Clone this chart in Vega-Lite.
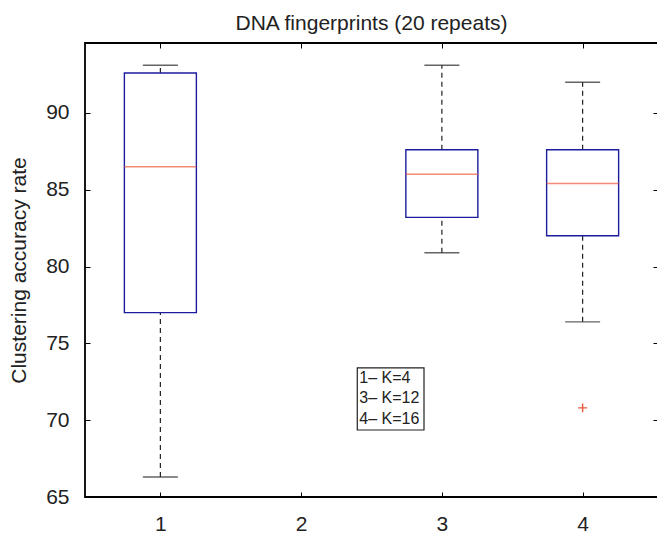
{
  "$schema": "https://vega.github.io/schema/vega-lite/v6.json",
  "width": 573,
  "height": 454,
  "autosize": {"type": "none"},
  "padding": {"left": 85, "top": 43, "right": 0, "bottom": 37},
  "background": "white",
  "config": {
    "view": {"stroke": "black", "strokeWidth": 1.8},
    "font": "Liberation Sans",
    "axis": {"domain": false, "grid": false, "tickColor": "black", "tickWidth": 1, "labelColor": "#222222", "labelFont": "Liberation Sans", "titleFont": "Liberation Sans", "titleColor": "#222222"}
  },
  "title": {"text": "DNA fingerprints (20 repeats)", "fontSize": 21, "fontWeight": "normal", "font": "Liberation Sans", "color": "#222222", "offset": 9},
  "data": {"values": [
    {"group": 1, "lower": 66.3, "q1": 77.0, "median": 86.5, "q3": 92.6, "upper": 93.1},
    {"group": 3, "lower": 80.9, "q1": 83.2, "median": 86.0, "q3": 87.6, "upper": 93.1},
    {"group": 4, "lower": 76.4, "q1": 82.0, "median": 85.4, "q3": 87.6, "upper": 92.0}
  ]},
  "resolve": {"axis": {"x": "independent", "y": "independent"}},
  "layer": [
    {
      "mark": {"type": "rule", "color": "#222222", "strokeDash": [5, 4], "strokeWidth": 1.2},
      "encoding": {
        "x": {"field": "group", "type": "quantitative", "scale": {"domain": [0.5, 4.5], "nice": false, "zero": false},
          "axis": {"orient": "bottom", "values": [1, 2, 3, 4], "tickSize": -5, "labelPadding": 21, "labelFontSize": 21, "title": null, "format": "d"}},
        "y": {"field": "lower", "type": "quantitative", "scale": {"domain": [65, 94.55], "nice": false, "zero": false},
          "axis": {"orient": "left", "values": [65, 70, 75, 80, 85, 90], "tickSize": -5, "labelPadding": 21, "labelFontSize": 21, "title": "Clustering accuracy rate", "titleFontSize": 21, "titleFontWeight": "normal", "titlePadding": 16}},
        "y2": {"field": "q1"}
      }
    },
    {
      "mark": {"type": "rule", "color": "#222222", "strokeDash": [5, 4], "strokeWidth": 1.2},
      "encoding": {
        "x": {"field": "group", "type": "quantitative", "scale": {"domain": [0.5, 4.5], "nice": false, "zero": false},
          "axis": {"orient": "top", "values": [1, 2, 3, 4], "tickSize": -5, "labels": false, "title": null}},
        "y": {"field": "q3", "type": "quantitative", "scale": {"domain": [65, 94.55], "nice": false, "zero": false},
          "axis": {"orient": "right", "values": [65, 70, 75, 80, 85, 90], "tickSize": -5, "labels": false, "title": null}},
        "y2": {"field": "upper"}
      }
    },
    {
      "mark": {"type": "tick", "orient": "horizontal", "color": "#222222", "size": 35, "thickness": 1.4},
      "encoding": {
        "x": {"field": "group", "type": "quantitative", "scale": {"domain": [0.5, 4.5], "nice": false, "zero": false}, "axis": null},
        "y": {"field": "lower", "type": "quantitative", "scale": {"domain": [65, 94.55], "nice": false, "zero": false}, "axis": null}
      }
    },
    {
      "mark": {"type": "tick", "orient": "horizontal", "color": "#222222", "size": 35, "thickness": 1.4},
      "encoding": {
        "x": {"field": "group", "type": "quantitative", "scale": {"domain": [0.5, 4.5], "nice": false, "zero": false}, "axis": null},
        "y": {"field": "upper", "type": "quantitative", "scale": {"domain": [65, 94.55], "nice": false, "zero": false}, "axis": null}
      }
    },
    {
      "mark": {"type": "bar", "size": 72, "fill": "white", "fillOpacity": 0, "stroke": "#1c1c9c", "strokeWidth": 1.4},
      "encoding": {
        "x": {"field": "group", "type": "quantitative", "scale": {"domain": [0.5, 4.5], "nice": false, "zero": false}, "axis": null},
        "y": {"field": "q1", "type": "quantitative", "scale": {"domain": [65, 94.55], "nice": false, "zero": false}, "axis": null},
        "y2": {"field": "q3"}
      }
    },
    {
      "mark": {"type": "tick", "orient": "horizontal", "color": "#f05a3a", "size": 72, "thickness": 1.5},
      "encoding": {
        "x": {"field": "group", "type": "quantitative", "scale": {"domain": [0.5, 4.5], "nice": false, "zero": false}, "axis": null},
        "y": {"field": "median", "type": "quantitative", "scale": {"domain": [65, 94.55], "nice": false, "zero": false}, "axis": null}
      }
    },
    {
      "data": {"values": [{"group": 4, "value": 70.8}]},
      "mark": {"type": "point", "shape": "M-1,0L1,0M0,-1L0,1", "filled": false, "stroke": "#f05a3a", "strokeWidth": 1.4, "size": 80, "opacity": 1},
      "encoding": {
        "x": {"field": "group", "type": "quantitative", "scale": {"domain": [0.5, 4.5], "nice": false, "zero": false}, "axis": null},
        "y": {"field": "value", "type": "quantitative", "scale": {"domain": [65, 94.55], "nice": false, "zero": false}, "axis": null}
      }
    },
    {
      "data": {"values": [{"legend": "box"}]},
      "mark": {"type": "rect", "fill": "white", "stroke": "#222222", "strokeWidth": 1.2},
      "encoding": {
        "x": {"datum": 2.399, "type": "quantitative", "scale": {"domain": [0.5, 4.5], "nice": false, "zero": false}, "axis": null},
        "x2": {"datum": 2.873},
        "y": {"datum": 73.4, "type": "quantitative", "scale": {"domain": [65, 94.55], "nice": false, "zero": false}, "axis": null},
        "y2": {"datum": 69.36}
      }
    },
    {
      "data": {"values": [{"label": "1– K=4\n3– K=12\n4– K=16"}]},
      "mark": {"type": "text", "align": "left", "baseline": "middle", "fontSize": 16, "lineHeight": 20.5, "lineBreak": "\n", "font": "Liberation Sans", "color": "#222222"},
      "encoding": {
        "x": {"datum": 2.413, "type": "quantitative", "scale": {"domain": [0.5, 4.5], "nice": false, "zero": false}, "axis": null},
        "y": {"datum": 72.75, "type": "quantitative", "scale": {"domain": [65, 94.55], "nice": false, "zero": false}, "axis": null},
        "text": {"field": "label", "type": "nominal"}
      }
    }
  ]
}
